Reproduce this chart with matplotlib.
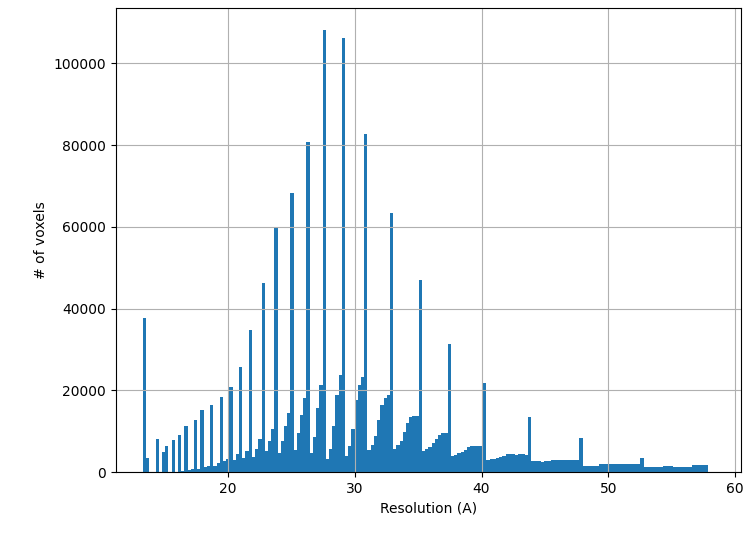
import numpy as np
import matplotlib
matplotlib.use("Agg")
import matplotlib.pyplot as plt

# Histogram range (Angstrom) and number of bins
res_min = 13.27
res_max = 57.86
n_bins = 176

# Voxel counts per bin
counts = [
    37600, 3500, 0, 0, 8000, 0, 5000, 6300, 0, 7800,
    0, 9000, 300, 11200, 400, 700, 12700, 700, 15200, 1300,
    1500, 16450, 1450, 2300, 18260, 2600, 3100, 20800, 2900, 4400,
    25600, 3500, 5060, 34800, 3600, 5600, 8070, 46200, 5060, 7500,
    10500, 59700, 4700, 7500, 11300, 14500, 68300, 5400, 9460, 13900,
    18000, 80850, 4700, 8500, 15650, 21270, 108150, 3180, 5600, 11250,
    18800, 23700, 106300, 3900, 6280, 10500, 17600, 21270, 23150, 82600,
    5380, 6600, 8800, 12700, 16400, 18000, 18800, 63300, 5600, 6600,
    7500, 9700, 12050, 13370, 13700, 13700, 47000, 5130, 5550, 6200,
    7000, 8150, 9050, 9500, 9500, 31400, 4000, 4100, 4570, 4960,
    5380, 6200, 6300, 6300, 6300, 6300, 21700, 2930, 3100, 3300,
    3500, 3700, 4000, 4300, 4480, 4480, 4100, 4480, 4480, 4250,
    13370, 2700, 2700, 2600, 2500, 2700, 2750, 2900, 2930, 2930,
    2930, 2930, 2930, 2930, 2930, 2930, 8400, 1550, 1550, 1550,
    1550, 1550, 1880, 1880, 1880, 1880, 1880, 1880, 1880, 1880,
    1880, 2040, 2040, 2040, 2040, 3500, 1300, 1300, 1300, 1300,
    1300, 1300, 1450, 1450, 1450, 1300, 1300, 1300, 1300, 1300,
    1300, 1700, 1700, 1700, 1700, 1700,
]

x_label = "Resolution (A)"
y_label = "# of voxels"

edges = np.linspace(res_min, res_max, n_bins + 1)
centers = 0.5 * (edges[:-1] + edges[1:])

fig = plt.figure(figsize=(7.48, 5.33), dpi=100)
ax = fig.add_axes([0.155, 0.1144, 0.8356, 0.8706])
ax.hist(centers, bins=edges, weights=counts, color="#1f77b4")
ax.set_xlim(11.16, 60.47)
ax.grid(True)
ax.set_xlabel(x_label)
ax.set_ylabel(y_label)
fig.savefig("out.png", dpi=100)
